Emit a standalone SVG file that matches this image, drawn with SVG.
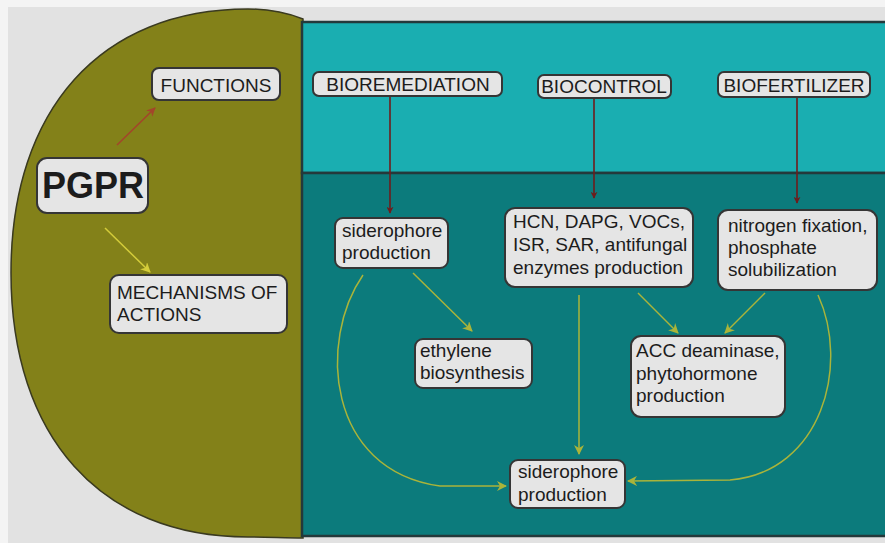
<svg xmlns="http://www.w3.org/2000/svg" width="885" height="543" viewBox="0 0 885 543">
  <style>
    .box { fill: #e5e5e5; stroke: #353535; stroke-width: 2; }
    .t { font-family: "Liberation Sans", Arial, sans-serif; font-size: 19px; fill: #1c1c1c; }
    .c { text-anchor: middle; }
    .red { fill: none; stroke: #6e1c1c; stroke-width: 1.6; }
    .grn { fill: none; stroke: #aab43a; stroke-width: 1.5; }
  </style>
  <defs>
    <marker id="ahRed" viewBox="0 0 10 10" refX="9" refY="5" markerWidth="7" markerHeight="7" markerUnits="userSpaceOnUse" orient="auto">
      <path d="M0,0 L10,5 L0,10 L3,5 z" fill="#6e1c1c"/>
    </marker>
    <marker id="ahBrown" viewBox="0 0 10 10" refX="9" refY="5" markerWidth="9" markerHeight="9" markerUnits="userSpaceOnUse" orient="auto">
      <path d="M0,0 L10,5 L0,10 L3,5 z" fill="#a3452a"/>
    </marker>
    <marker id="ahGrn" viewBox="0 0 10 10" refX="9" refY="5" markerWidth="10" markerHeight="10" markerUnits="userSpaceOnUse" orient="auto">
      <path d="M0,0 L10,5 L0,10 L3,5 z" fill="#aab43a"/>
    </marker>
    <marker id="ahYel" viewBox="0 0 10 10" refX="9" refY="5" markerWidth="10" markerHeight="10" markerUnits="userSpaceOnUse" orient="auto">
      <path d="M0,0 L10,5 L0,10 L3,5 z" fill="#d4cc3a"/>
    </marker>
  </defs>

  <!-- page background -->
  <rect x="0" y="0" width="885" height="543" fill="#f4f4f4"/>
  <rect x="8" y="7" width="877" height="536" fill="#e2e2e2"/>

  <!-- olive half-disc -->
  <path d="M303,19 C285,12 268,9 248,9 C101,9 11,109 11,273 C11,437 101,537 248,537 C268,537 285,538 303,538 Z" fill="#838119" stroke="#3a3a20" stroke-width="1.5"/>

  <!-- teal panels -->
  <rect x="302" y="22" width="590" height="151" fill="#1aaeb1" stroke="#24393b" stroke-width="2.5"/>
  <rect x="302" y="173" width="590" height="363" fill="#0c7b7c" stroke="#24393b" stroke-width="2.5"/>

  <!-- connectors -->
  <g id="connectors">
    <line class="red" x1="117" y1="145" x2="155" y2="108" style="stroke:#a3452a" marker-end="url(#ahBrown)"/>
    <line class="grn" x1="105" y1="228" x2="150" y2="272" style="stroke:#d4cc3a" marker-end="url(#ahYel)"/>
    <line class="red" x1="390" y1="97" x2="390" y2="213" marker-end="url(#ahRed)"/>
    <line class="red" x1="594" y1="99" x2="594" y2="198" marker-end="url(#ahRed)"/>
    <line class="red" x1="797" y1="98" x2="797" y2="203" marker-end="url(#ahRed)"/>
    <line class="grn" x1="413" y1="273" x2="472" y2="331" marker-end="url(#ahGrn)"/>
    <path class="grn" d="M363,275 C318,340 326,470 440,486 L506,486" marker-end="url(#ahGrn)"/>
    <line class="grn" x1="579" y1="295" x2="579" y2="454" marker-end="url(#ahGrn)"/>
    <line class="grn" x1="638" y1="293" x2="678" y2="333" marker-end="url(#ahGrn)"/>
    <line class="grn" x1="765" y1="293" x2="725" y2="333" marker-end="url(#ahGrn)"/>
    <path class="grn" d="M818,295 C850,365 822,472 730,480 L628,481" marker-end="url(#ahGrn)"/>
  </g>

  <!-- nodes -->
  <g id="n-functions">
    <rect class="box" x="152" y="68" width="128" height="32" rx="7"/>
    <text class="t c" x="216" y="92">FUNCTIONS</text>
  </g>
  <g id="n-pgpr">
    <rect class="box" x="37" y="158" width="111" height="55" rx="10"/>
    <text class="t c" x="93" y="198" style="font-size:36px;font-weight:bold">PGPR</text>
  </g>
  <g id="n-mechanisms">
    <rect class="box" x="110" y="275" width="177" height="58" rx="9"/>
    <text class="t" x="117" y="299">MECHANISMS OF</text>
    <text class="t" x="117" y="321">ACTIONS</text>
  </g>
  <g id="n-bioremediation">
    <rect class="box" x="313" y="72" width="189" height="24" rx="6"/>
    <text class="t c" x="408" y="91">BIOREMEDIATION</text>
  </g>
  <g id="n-biocontrol">
    <rect class="box" x="538" y="75" width="133" height="23" rx="6"/>
    <text class="t c" x="604" y="93">BIOCONTROL</text>
  </g>
  <g id="n-biofertilizer">
    <rect class="box" x="718" y="72" width="152" height="25" rx="6"/>
    <text class="t c" x="794" y="92">BIOFERTILIZER</text>
  </g>
  <g id="n-siderophore-top">
    <rect class="box" x="335" y="218" width="113" height="50" rx="8"/>
    <text class="t" x="342" y="237">siderophore</text>
    <text class="t" x="342" y="259">production</text>
  </g>
  <g id="n-hcn">
    <rect class="box" x="505" y="208" width="188" height="79" rx="10"/>
    <text class="t" x="513" y="228">HCN, DAPG, VOCs,</text>
    <text class="t" x="513" y="251">ISR, SAR, antifungal</text>
    <text class="t" x="513" y="274">enzymes production</text>
  </g>
  <g id="n-nitrogen">
    <rect class="box" x="718" y="210" width="159" height="80" rx="10"/>
    <text class="t" x="728" y="232">nitrogen fixation,</text>
    <text class="t" x="728" y="254">phosphate</text>
    <text class="t" x="728" y="276">solubilization</text>
  </g>
  <g id="n-ethylene">
    <rect class="box" x="415" y="339" width="117" height="49" rx="8"/>
    <text class="t" x="420" y="357">ethylene</text>
    <text class="t" x="420" y="379">biosynthesis</text>
  </g>
  <g id="n-acc">
    <rect class="box" x="631" y="336" width="154" height="81" rx="10"/>
    <text class="t" x="636" y="357">ACC deaminase,</text>
    <text class="t" x="636" y="380">phytohormone</text>
    <text class="t" x="636" y="402">production</text>
  </g>
  <g id="n-siderophore-bottom">
    <rect class="box" x="510" y="460" width="115" height="48" rx="8"/>
    <text class="t" x="518" y="478">siderophore</text>
    <text class="t" x="518" y="501">production</text>
  </g>
</svg>
